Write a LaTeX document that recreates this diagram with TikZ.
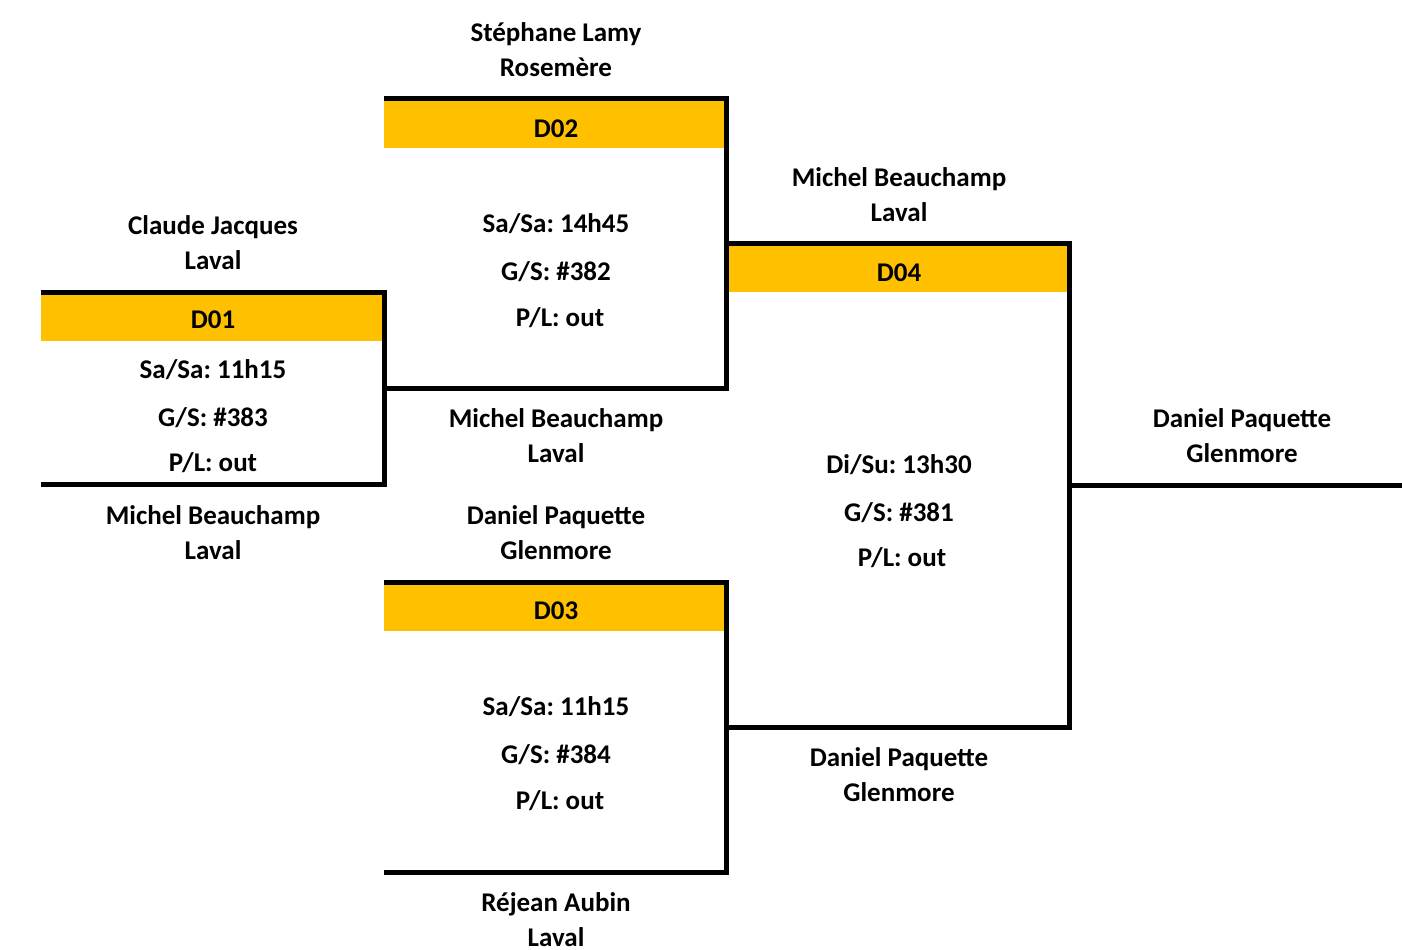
\documentclass[tikz,border=0pt]{standalone}
\usepackage{fontspec}
\setmainfont{Carlito}
\frenchspacing
\begin{document}
\begin{tikzpicture}[x=0.5pt,y=-0.5pt]
	\tikzset{txt/.style={font=\bfseries\fontsize{13.5}{16}\selectfont, anchor=base, inner sep=0pt},
		bracket/.style={line width=2.5pt, line join=miter}}
	\definecolor{gold}{HTML}{FFC000}
	\useasboundingbox (0,0) rectangle (1402,949);
	
	% match headers
	\foreach \id/\xa/\ya/\xb/\yb/\xm/\ym in {D01/41/295/382/341/213/328.5, D02/384/101/724/148/556/137.3,
		D03/384/585/724/631/556/619, D04/729/246/1067/292/899/281}{
		\fill[gold] (\xa,\ya) rectangle (\xb,\yb);
		\node[txt] (\id) at (\xm,\ym) {\id};
	}
	
	% brackets
	\draw[bracket] (41,292.5) -- (384.5,292.5) -- (384.5,484.5) -- (41,484.5);
	\draw[bracket] (384,98.5) -- (726.5,98.5) -- (726.5,388) -- (384.5,388);
	\draw[bracket] (384,582.5) -- (726.5,582.5) -- (726.5,872.5) -- (384,872.5);
	\draw[bracket] (727,243.5) -- (1069.5,243.5) -- (1069.5,727.5) -- (727,727.5);
	\draw[bracket] (1069.5,485.5) -- (1402,485.5);
	
	% match info
	\foreach \id/\x/\y/\day/\game/\px in {D01/213/378.3/Sa\slash Sa: 11h15/383/213, D02/556/232.5/Sa\slash Sa: 14h45/382/560,
		D03/556/715.5/Sa\slash Sa: 11h15/384/560, D04/899/473.3/Di\slash Su: 13h30/381/902}{
		\node[txt] (\id-day) at (\x,\y) {\day};
		\node[txt] (\id-game) at (\x,\y+48) {G/S: \#\game};
		\node[txt] (\id-res) at (\px,\y+93.5) {P/L: out};
	}
	
	% players
	\foreach \n/\x/\y/\name/\club in {p1/556/41.7/Stéphane Lamy/Rosemère, p2/213/234.5/Claude Jacques/Laval,
		p3/213/524.5/Michel Beauchamp/Laval, p4/556/427.7/Michel Beauchamp/Laval,
		p5/556/524.5/Daniel Paquette/Glenmore, p6/556/911.5/Réjean Aubin/Laval,
		p7/899/186.5/Michel Beauchamp/Laval, p8/899/766.5/Daniel Paquette/Glenmore,
		p9/1242/427.7/Daniel Paquette/Glenmore}{
		\node[txt] (\n-1) at (\x,\y) {\name};
		\node[txt] (\n-2) at (\x,\y+35) {\club};
	}
\end{tikzpicture}
\end{document}
